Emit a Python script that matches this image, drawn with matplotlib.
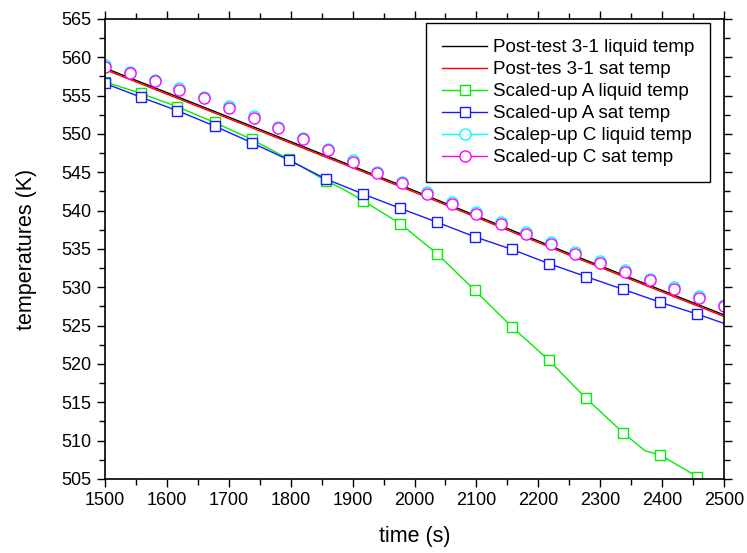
import matplotlib
matplotlib.use('Agg')
import matplotlib.pyplot as plt
from matplotlib.lines import Line2D

plt.rcParams['font.family'] = ['Liberation Sans', 'DejaVu Sans']

# post-test 3-1 (plain lines)
t_post = [1500, 1750, 2000, 2250, 2500]
post_liq = [558.6, 550.6, 542.6, 534.4, 526.4]
post_sat = [558.4, 550.4, 542.4, 534.2, 526.2]

# scaled-up A (squares)
t_a_liq = [1500, 1558, 1617, 1677, 1737, 1797, 1857, 1885, 1917, 1977,
           2037, 2097, 2157, 2217, 2277, 2337, 2372, 2397, 2457, 2465]
a_liq = [556.8, 555.3, 553.56, 551.5, 549.3, 546.7, 543.9, 542.8, 541.3, 538.3,
         534.35, 529.65, 524.87, 520.5, 515.53, 511.04, 508.7, 508.13, 505.3, 505.0]
a_liq_marks = [0, 1, 2, 3, 4, 5, 6, 8, 9, 10, 11, 12, 13, 14, 15, 17, 18]

t_a_sat = [1500, 1558, 1617, 1677, 1737, 1797, 1857, 1917, 1977, 2037,
           2097, 2157, 2217, 2277, 2337, 2397, 2457, 2500]
a_sat = [556.6, 554.8, 553.04, 551.04, 548.87, 546.6, 544.13, 542.17, 540.3, 538.48,
         536.6, 534.96, 533.1, 531.4, 529.74, 528.05, 526.5, 525.3]

# scaled-up C (circles)
t_c = [1500, 1540, 1580, 1620, 1660, 1700, 1740, 1780, 1820, 1860, 1900, 1940, 1980,
       2020, 2060, 2100, 2140, 2180, 2220, 2260, 2300, 2340, 2380, 2420, 2460, 2500]
c_sat = [558.78, 557.9, 556.95, 555.8, 554.65, 553.43, 552.13, 550.74, 549.3, 547.9,
         546.4, 544.95, 543.56, 542.2, 540.9, 539.6, 538.3, 537.0, 535.65, 534.4,
         533.2, 532.0, 530.9, 529.8, 528.65, 527.5]
c_liq = [559.0, 558.1, 557.1, 556.0, 554.85, 553.6, 552.3, 550.9, 549.5, 548.1,
         546.6, 545.1, 543.75, 542.4, 541.1, 539.8, 538.5, 537.2, 535.85, 534.6,
         533.4, 532.2, 531.1, 530.0, 528.85, 527.7]

labels = ['Post-test 3-1 liquid temp', 'Post-tes 3-1 sat temp',
          'Scaled-up A liquid temp', 'Scaled-up A sat temp',
          'Scalep-up C liquid temp', 'Scaled-up C sat temp']

green = '#00ee00'
blue = '#1a1aff'
cyan = '#00ffff'
magenta = '#ff00ff'

fig = plt.figure(figsize=(7.47, 5.53), dpi=100)
ax = fig.add_axes([105 / 747, 74 / 553, 619 / 747, 460 / 553])

ax.plot(t_a_liq, a_liq, color=green, lw=1, marker='s', ms=7, mfc='white',
        mec=green, mew=1, markevery=a_liq_marks)
ax.plot(t_a_sat, a_sat, color=blue, lw=1, marker='s', ms=7, mfc='white',
        mec=blue, mew=1, markevery=list(range(17)))
ax.plot(t_post, post_liq, color='black', lw=1)
ax.plot(t_post, post_sat, color='red', lw=1)
ax.plot(t_c, c_liq, ls='none', marker='o', ms=8, mfc='white', mec=cyan, mew=1)
ax.plot(t_c, c_sat, ls='none', marker='o', ms=8, mfc='white', mec=magenta, mew=1)

handles = [
    Line2D([], [], color='black', lw=1),
    Line2D([], [], color='red', lw=1),
    Line2D([], [], color=green, lw=1, marker='s', ms=7, mfc='white', mec=green),
    Line2D([], [], color=blue, lw=1, marker='s', ms=7, mfc='white', mec=blue),
    Line2D([], [], color=cyan, lw=1, marker='o', ms=8, mfc='white', mec=cyan),
    Line2D([], [], color=magenta, lw=1, marker='o', ms=8, mfc='white', mec=magenta),
]
leg = ax.legend(handles, labels, loc='upper right', bbox_to_anchor=(710 / 747, 1 - 23 / 553),
                bbox_transform=fig.transFigure, fontsize=13.5, frameon=True, fancybox=False,
                edgecolor='black', framealpha=1, handlelength=2.4, handletextpad=0.3,
                labelspacing=0.26, borderpad=0.85, borderaxespad=0, numpoints=1)
leg.get_frame().set_linewidth(1)

ax.set_xlim(1500, 2500)
ax.set_ylim(505, 565)
ax.set_xticks(range(1500, 2501, 100))
ax.set_xticks(range(1550, 2500, 100), minor=True)
ax.set_yticks(range(505, 566, 5))
ax.set_yticks([505 + 2.5 + 5 * i for i in range(12)], minor=True)
ax.tick_params(which='both', direction='out', top=True, right=True, width=1, labelsize=13)
ax.tick_params(which='major', length=6)
ax.tick_params(which='minor', length=4)
for s in ax.spines.values():
    s.set_linewidth(1.2)

ax.set_xlabel('time (s)', fontsize=15.5, labelpad=12)
ax.set_ylabel('temperatures (K)', fontsize=15.5, labelpad=18)

fig.savefig('out.png', dpi=100)
